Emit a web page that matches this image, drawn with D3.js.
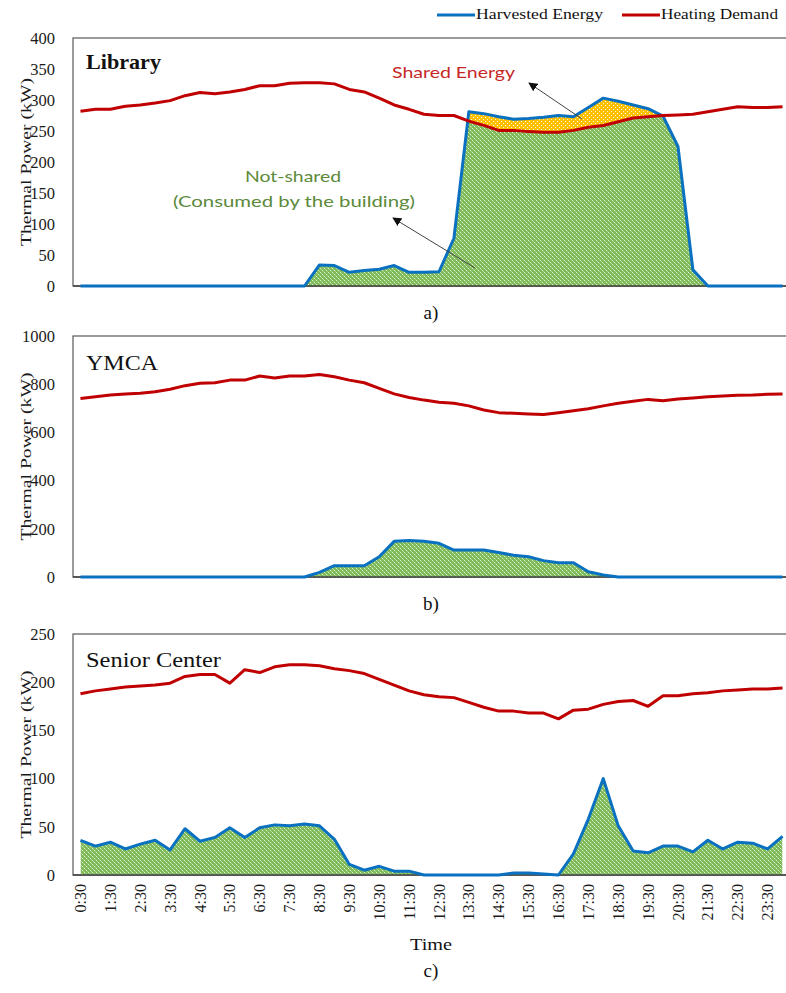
<!DOCTYPE html>
<html>
<head>
<meta charset="utf-8">
<script src="https://cdn.jsdelivr.net/npm/d3@7"></script>
<style>
  html, body { margin: 0; padding: 0; background: #fff; }
  svg { display: block; }
</style>
</head>
<body>
<div id="chart"></div>
<script>
// ---------------- DATA ----------------
const categories = ["0:30","1:00","1:30","2:00","2:30","3:00","3:30","4:00","4:30","5:00","5:30","6:00",
  "6:30","7:00","7:30","8:00","8:30","9:00","9:30","10:00","10:30","11:00","11:30","12:00",
  "12:30","13:00","13:30","14:00","14:30","15:00","15:30","16:00","16:30","17:00","17:30","18:00",
  "18:30","19:00","19:30","20:00","20:30","21:00","21:30","22:00","22:30","23:00","23:30","24:00"];

const timeTickLabels = ["0:30","1:30","2:30","3:30","4:30","5:30","6:30","7:30","8:30","9:30","10:30","11:30",
  "12:30","13:30","14:30","15:30","16:30","17:30","18:30","19:30","20:30","21:30","22:30","23:30"];

const seriesNames = ["Harvested Energy", "Heating Demand"];

const libraryHarvest = [0,0,0,0,0,0,0,0,0,0,0,0,0,0,0,0,
  34,33,22,25,27,33,22,22,23,77,281,278,273,269,270,272,275,273,288,303,298,292,286,274,225,26,
  0,0,0,0,0,0];
const libraryDemand = [282,285,285,290,292,295,299,307,312,310,313,317,323,323,327,328,328,326,317,313,
  303,292,285,277,275,275,266,259,251,251,249,248,248,251,256,259,265,271,273,275,276,277,281,285,289,288,288,289];
const libraryTicks = [0,50,100,150,200,250,300,350,400];

const ymcaHarvest = [0,0,0,0,0,0,0,0,0,0,0,0,0,0,0,0,
  19,47,47,47,84,148,151,148,140,112,112,112,102,90,84,68,59,59,22,8,
  0,0,0,0,0,0,0,0,0,0,0,0];
const ymcaDemand = [741,748,755,759,762,769,779,794,804,806,817,817,834,826,834,834,840,831,817,806,
  783,760,745,734,725,721,710,693,682,679,676,674,682,690,698,710,721,729,737,731,739,743,748,751,754,755,758,759];
const ymcaTicks = [0,200,400,600,800,1000];

const seniorHarvest = [36,30,34,27,32,36,26,48,35,39,49,39,49,52,51,53,51,37,11,5,
  9,4,4,0,0,0,0,0,0,2,2,1,0,22,58,100,51,25,23,30,30,24,36,27,34,33,27,40];
const seniorDemand = [188,191,193,195,196,197,199,206,208,208,199,213,210,216,218,218,217,214,212,209,
  203,197,191,187,185,184,179,174,170,170,168,168,162,171,172,177,180,181,175,186,186,188,189,191,192,193,193,194];
const seniorTicks = [0,50,100,150,200,250];

// ---------------- LAYOUT ----------------
const W = 786, H = 993;
const SERIF = "'Liberation Serif','Times New Roman',serif";
const SANS = "Lato,'Noto Sans',sans-serif";
const BLUE = "#0A70C0", RED = "#C00000";

const panels = [
  { key: "a", title: "Library", bold: true, titleLen: 75, titleY: 69, harvest: libraryHarvest, demand: libraryDemand, ticks: libraryTicks, top: 38, bottom: 286, subY: 319 },
  { key: "b", title: "YMCA", bold: false, titleLen: 72, titleY: 370, harvest: ymcaHarvest, demand: ymcaDemand, ticks: ymcaTicks, top: 336, bottom: 577, subY: 610 },
  { key: "c", title: "Senior Center", bold: false, titleLen: 135, titleY: 667, harvest: seniorHarvest, demand: seniorDemand, ticks: seniorTicks, top: 634, bottom: 875, subY: 977 }
];

const plotLeft = 73, plotRight = 790;

const svg = d3.select("#chart").append("svg")
  .attr("width", W).attr("height", H)
  .attr("viewBox", `0 0 ${W} ${H}`);

const defs = svg.append("defs");

// green dotted pattern
const pg = defs.append("pattern").attr("id", "greenPat")
  .attr("patternUnits", "userSpaceOnUse").attr("width", 4).attr("height", 4);
pg.append("rect").attr("width", 4).attr("height", 4).attr("fill", "#7EBA58");
pg.append("rect").attr("x", 0).attr("y", 0).attr("width", 1).attr("height", 1).attr("fill", "#E4F2DA");
pg.append("rect").attr("x", 2).attr("y", 2).attr("width", 1).attr("height", 1).attr("fill", "#E4F2DA");
pg.append("rect").attr("x", 1).attr("y", 1).attr("width", 1).attr("height", 1).attr("fill", "#A8D28C");
pg.append("rect").attr("x", 3).attr("y", 3).attr("width", 1).attr("height", 1).attr("fill", "#A8D28C");

// yellow dotted pattern
const py = defs.append("pattern").attr("id", "yellowPat")
  .attr("patternUnits", "userSpaceOnUse").attr("width", 4).attr("height", 4);
py.append("rect").attr("width", 4).attr("height", 4).attr("fill", "#FFC000");
py.append("rect").attr("x", 1).attr("y", 1).attr("width", 1).attr("height", 1).attr("fill", "#FFFFFF");
py.append("rect").attr("x", 3).attr("y", 3).attr("width", 1).attr("height", 1).attr("fill", "#FFF3C8");

// arrow marker
defs.append("marker").attr("id", "arrowHead")
  .attr("viewBox", "0 0 10 10").attr("refX", 9).attr("refY", 5)
  .attr("markerWidth", 9).attr("markerHeight", 9).attr("orient", "auto-start-reverse")
  .attr("markerUnits", "userSpaceOnUse")
  .append("path").attr("d", "M0,0 L10,5 L0,10 Z").attr("fill", "#111");

const x = d3.scalePoint().domain(categories).range([plotLeft, plotRight]).padding(0.5);

panels.forEach((p) => {
  const y = d3.scaleLinear().domain([0, d3.max(p.ticks)]).range([p.bottom, p.top]);
  const g = svg.append("g");

  // frame
  g.append("rect").attr("x", plotLeft).attr("y", p.top)
    .attr("width", plotRight - plotLeft).attr("height", p.bottom - p.top)
    .attr("fill", "none").attr("stroke", "#595959").attr("stroke-width", 1.2);

  // clip paths
  const under = d3.area().x((d, i) => x(categories[i])).y0(p.bottom + 2).y1(d => y(d));
  const above = d3.area().x((d, i) => x(categories[i])).y0(p.top - 10).y1(d => y(d));
  defs.append("clipPath").attr("id", "under-" + p.key).append("path").attr("d", under(p.demand));
  defs.append("clipPath").attr("id", "above-" + p.key).append("path").attr("d", above(p.demand));

  const harvestArea = d3.area().x((d, i) => x(categories[i])).y0(y(0)).y1(d => y(d));
  g.append("path").attr("d", harvestArea(p.harvest))
    .attr("fill", "url(#greenPat)").attr("clip-path", `url(#under-${p.key})`);
  g.append("path").attr("d", harvestArea(p.harvest))
    .attr("fill", "url(#yellowPat)").attr("clip-path", `url(#above-${p.key})`);

  // axis baseline
  g.append("line").attr("x1", plotLeft).attr("x2", plotRight)
    .attr("y1", p.bottom).attr("y2", p.bottom)
    .attr("stroke", "#404040").attr("stroke-width", 1.5);

  // y axis
  const yAxis = d3.axisLeft(y).tickValues(p.ticks).tickSize(0).tickPadding(18).tickFormat(d3.format("d"));
  const ya = g.append("g").attr("transform", `translate(${plotLeft},0)`).call(yAxis);
  ya.select(".domain").remove();
  ya.selectAll("text").attr("font-family", SERIF).attr("font-size", 16.5).attr("fill", "#1a1a1a");

  // y title
  g.append("text")
    .attr("transform", `translate(31,${(p.top + p.bottom) / 2}) rotate(-90)`)
    .attr("text-anchor", "middle")
    .attr("font-family", SERIF).attr("font-size", 15).attr("fill", "#1a1a1a")
    .attr("textLength", 168).attr("lengthAdjust", "spacingAndGlyphs")
    .text("Thermal Power (kW)");

  // lines
  const line = d3.line().x((d, i) => x(categories[i])).y(d => y(d));
  g.append("path").attr("d", line(p.harvest)).attr("fill", "none")
    .attr("stroke", BLUE).attr("stroke-width", 3).attr("stroke-linejoin", "round");
  g.append("path").attr("d", line(p.demand)).attr("fill", "none")
    .attr("stroke", RED).attr("stroke-width", 3).attr("stroke-linejoin", "round");

  // title
  g.append("text").attr("x", 86).attr("y", p.titleY)
    .attr("font-family", SERIF).attr("font-size", 22)
    .attr("font-weight", p.bold ? "bold" : "normal").attr("fill", "#111")
    .attr("textLength", p.titleLen).attr("lengthAdjust", "spacingAndGlyphs")
    .text(p.title);

  // sub label
  g.append("text").attr("x", 431).attr("y", p.subY).attr("text-anchor", "middle")
    .attr("font-family", SERIF).attr("font-size", 19).attr("fill", "#111")
    .text(p.key + ")");

  // x labels only on the last panel
  if (p.key === "c") {
    timeTickLabels.forEach(t => {
      g.append("text")
        .attr("transform", `translate(${x(t)},${p.bottom + 9}) rotate(-90)`)
        .attr("text-anchor", "end").attr("dy", "0.35em")
        .attr("font-family", SERIF).attr("font-size", 16).attr("fill", "#1a1a1a")
        .text(t);
    });
    g.append("text").attr("x", 431).attr("y", 950).attr("text-anchor", "middle")
      .attr("font-family", SERIF).attr("font-size", 17).attr("fill", "#111")
      .attr("textLength", 42).attr("lengthAdjust", "spacingAndGlyphs")
      .text("Time");
  }
});

// annotations (panel a)
svg.append("line").attr("x1", 582).attr("y1", 119).attr("x2", 529).attr("y2", 83)
  .attr("stroke", "#444").attr("stroke-width", 1).attr("marker-end", "url(#arrowHead)");
svg.append("line").attr("x1", 475).attr("y1", 268).attr("x2", 393).attr("y2", 218)
  .attr("stroke", "#444").attr("stroke-width", 1).attr("marker-end", "url(#arrowHead)");

svg.append("text").attr("x", 392).attr("y", 78)
  .attr("font-family", SANS).attr("font-size", 15).attr("fill", "#C62828")
  .attr("textLength", 123).attr("lengthAdjust", "spacingAndGlyphs")
  .text("Shared Energy");
svg.append("text").attr("x", 293).attr("y", 182).attr("text-anchor", "middle")
  .attr("font-family", SANS).attr("font-size", 15).attr("fill", "#5B8A3A")
  .attr("textLength", 96).attr("lengthAdjust", "spacingAndGlyphs")
  .text("Not-shared");
svg.append("text").attr("x", 294).attr("y", 207).attr("text-anchor", "middle")
  .attr("font-family", SANS).attr("font-size", 15).attr("fill", "#5B8A3A")
  .attr("textLength", 242).attr("lengthAdjust", "spacingAndGlyphs")
  .text("(Consumed by the building)");

// legend
const legend = svg.append("g");
const legendItems = [
  { name: seriesNames[0], color: BLUE, x1: 437, x2: 475, tx: 476, len: 127 },
  { name: seriesNames[1], color: RED, x1: 622, x2: 660, tx: 661, len: 117 }
];
legendItems.forEach(it => {
  legend.append("line").attr("x1", it.x1).attr("x2", it.x2).attr("y1", 15).attr("y2", 15)
    .attr("stroke", it.color).attr("stroke-width", 3);
  legend.append("text").attr("x", it.tx).attr("y", 19)
    .attr("font-family", SERIF).attr("font-size", 14).attr("fill", "#111")
    .attr("textLength", it.len).attr("lengthAdjust", "spacingAndGlyphs")
    .text(it.name);
});
</script>
</body>
</html>
